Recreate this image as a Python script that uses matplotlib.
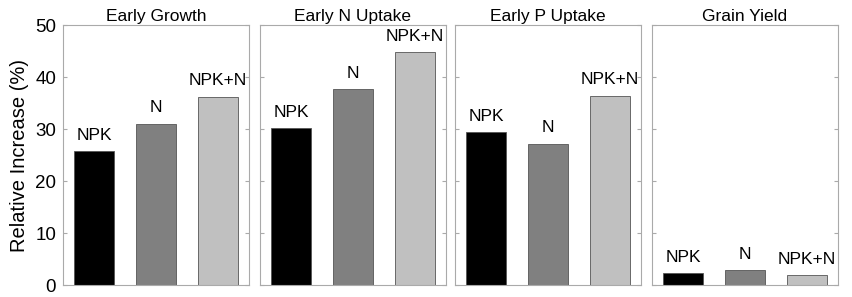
import matplotlib
matplotlib.use("Agg")
import matplotlib.pyplot as plt

plt.rcParams['font.family'] = ['Liberation Sans', 'DejaVu Sans']

titles = ["Early Growth", "Early N Uptake", "Early P Uptake", "Grain Yield"]
treatments = ["NPK", "N", "NPK+N"]
values = [
    [25.8, 31.0, 36.2],
    [30.1, 37.7, 44.8],
    [29.4, 27.2, 36.4],
    [2.3, 2.8, 1.9],
]
colors = ["#000000", "#808080", "#c0c0c0"]
yticks = [0, 10, 20, 30, 40, 50]

fig = plt.figure(figsize=(8.52, 2.97), dpi=100)
lefts = [63, 260, 455, 652]
W, H = 852, 297
for i, (t, vals) in enumerate(zip(titles, values)):
    ax = fig.add_axes([lefts[i] / W, 12 / H, 186 / W, 260 / H])
    x = [1, 2, 3]
    ax.bar(x, vals, width=0.64, color=colors, edgecolor="#555555", linewidth=0.6)
    for xi, v, lab in zip(x, vals, treatments):
        ax.text(xi, v + 1.6, lab, ha="center", va="bottom", fontsize=12.5)
    ax.set_xlim(0.5, 3.5)
    ax.set_ylim(0, 50)
    ax.set_yticks(yticks)
    ax.set_xticks([])
    ax.tick_params(axis="y", direction="in", length=3, color="#aaaaaa",
                   left=True, right=True, labelsize=13.5, pad=5)
    for s in ax.spines.values():
        s.set_color("#aaaaaa")
        s.set_linewidth(0.8)
    ax.set_title(t, fontsize=12.5, pad=3)
    if i == 0:
        ax.set_ylabel("Relative Increase (%)", fontsize=14.5, labelpad=4)
    else:
        ax.set_yticklabels([])

fig.savefig("out.png", dpi=100)
